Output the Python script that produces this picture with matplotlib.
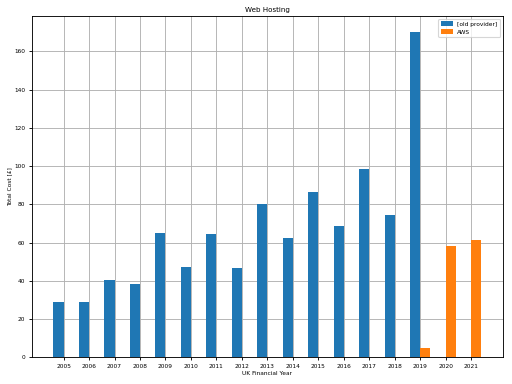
import numpy as np
import matplotlib.pyplot as plt

years_old = [2005, 2006, 2007, 2008, 2009, 2010, 2011, 2012, 2013, 2014,
             2015, 2016, 2017, 2018, 2019]
cost_old = [29, 29, 40.5, 38.5, 65, 47, 64.5, 46.5, 80, 62.5,
            86.5, 68.5, 98.5, 74.5, 170]

years_aws = [2019, 2020, 2021]
cost_aws = [5, 58, 61.5]

width = 0.4

fig, ax = plt.subplots(figsize=(6.4, 4.8), dpi=80)
ax.bar(np.array(years_old), cost_old, width=-width, align="edge", label="[old provider]")
ax.bar(np.array(years_aws), cost_aws, width=width, align="edge", label="AWS")

ax.set_xticks(years_old + years_aws[1:])
ax.tick_params(labelsize=5.3, length=2.5)
ax.set_xlabel("UK Financial Year", fontsize=5.3, labelpad=2)
ax.set_ylabel("Total Cost [£]", fontsize=5.3, labelpad=2)
ax.set_title("Web Hosting", fontsize=6.4, pad=4)
ax.grid(True)
ax.set_axisbelow(True)
ax.legend(fontsize=5.3, loc="upper right")

plt.subplots_adjust(left=0.0625, right=0.982, top=0.958, bottom=0.070)
plt.savefig("out.png")
